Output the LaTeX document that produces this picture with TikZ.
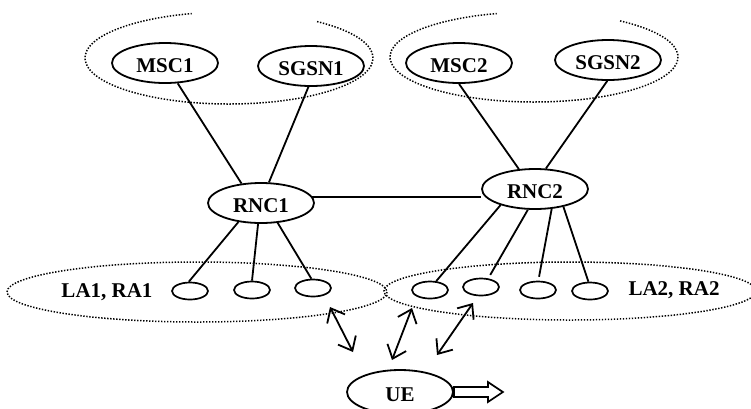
\documentclass[tikz,border=0pt]{standalone}
\usepackage{fontspec}
\setmainfont{Liberation Serif}
\usetikzlibrary{shapes.geometric,arrows.meta}
\tikzset{
  big/.style={ellipse, draw, line width=1.8pt, minimum width=106pt, minimum height=40pt, inner sep=0pt, text height=18pt, text depth=0pt, font=\bfseries\fontsize{21}{25}\selectfont},
  small/.style={ellipse, draw, line width=1.7pt, minimum width=36pt, minimum height=17pt, inner sep=0pt},
  lbl/.style={font=\bfseries\fontsize{21}{25}\selectfont, inner sep=0pt},
  link/.style={line width=1.8pt},
  grp/.style={line width=1.5pt, dash pattern=on 1.4pt off 1.6pt},
  dbl/.style={line width=1.8pt, {Straight Barb[length=12pt,width=20pt]}-{Straight Barb[length=12pt,width=20pt]}},
  mover/.style={line width=1.7pt}
}
\begin{document}
\begin{tikzpicture}[x=1pt,y=-1pt]
\useasboundingbox (0,0) rectangle (751,408);
% group outlines
\draw[grp] (229,58) ++(-52.3:144 and 46) arc[start angle=-52.3, end angle=255, x radius=144, y radius=46];
\draw[grp] (534,57) ++(-53.3:144 and 45) arc[start angle=-53.3, end angle=255, x radius=144, y radius=45];
\draw[grp] (197,292) ellipse[x radius=190, y radius=30];
\draw[grp] (570,291) ellipse[x radius=186, y radius=29];
% main nodes
\node[big] (MSC1) at (165,63) {MSC1};
\node[big] (SGSN1) at (311,66) {SGSN1};
\node[big] (RNC1) at (261,203) {RNC1};
\node[big] (MSC2) at (459,63) {MSC2};
\node[big] (SGSN2) at (608,60) {SGSN2};
\node[big] (RNC2) at (535,189) {RNC2};
\node[big, minimum height=44pt] (UE) at (400,392) {UE};
% cells
\node[small] (c1) at (190,291) {};
\node[small] (c2) at (252,290) {};
\node[small] (c3) at (313,288) {};
\node[small] (d1) at (430,290) {};
\node[small] (d2) at (481,287) {};
\node[small] (d3) at (538,290) {};
\node[small] (d4) at (590,291) {};
\node[lbl] (la1) at (107,292) {LA1, RA1};
\node[lbl] (la2) at (674,290) {LA2, RA2};
% links
\draw[link] (MSC1.-58) -- (RNC1.135);
\draw[link] (SGSN1.-97) -- (RNC1.69);
\draw[link] (MSC2.-90) -- (RNC2.129);
\draw[link] (SGSN2.-92) -- (RNC2.62);
\draw[link] (RNC1.7) -- (RNC1.7 -| RNC2.west);
\draw[link] (RNC1.-140) -- (c1.97);
\draw[link] (RNC1.-98) -- (c2.90);
\draw[link] (RNC1.-50) -- (c3.100);
\draw[link] (RNC2.-155) -- (d1.55);
\draw[link, shorten >=4pt] (RNC2.-109) -- (d2.50);
\draw[link, shorten >=4pt] (RNC2.-50) -- (d3.88);
\draw[link] (RNC2.-32) -- (d4.100);
% radio arrows
\coordinate (a1s) at (330,307); \coordinate (a1e) at (353,352);
\coordinate (a2s) at (412,308); \coordinate (a2e) at (392,360);
\coordinate (a3s) at (473,303); \coordinate (a3e) at (437,355);
\draw[dbl] (a1s) -- (a1e);
\draw[dbl] (a2s) -- (a2e);
\draw[dbl] (a3s) -- (a3e);
% movement arrow
\draw[mover, line join=miter] (UE.east) ++(0,-5) -- ++(34,0) -- ++(0,-5) -- ++(15,10) -- ++(-15,10) -- ++(0,-5) -- ++(-34,0) -- cycle;
\end{tikzpicture}
\end{document}
